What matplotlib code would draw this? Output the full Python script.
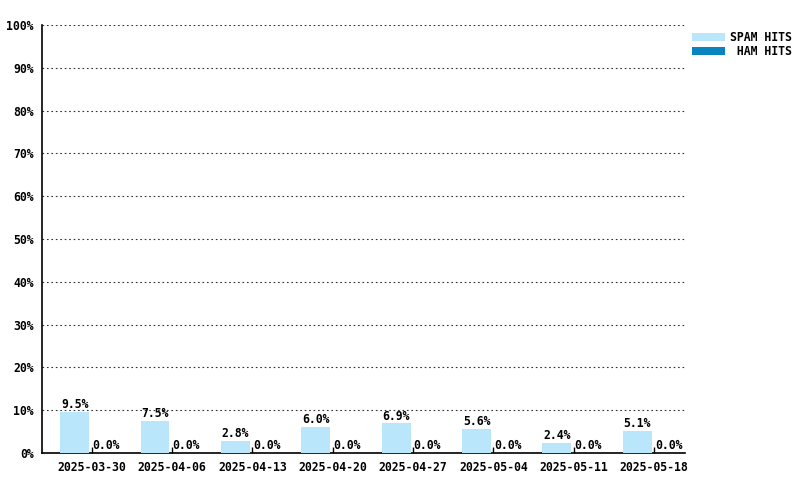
import matplotlib
matplotlib.use("Agg")
import matplotlib.pyplot as plt
import numpy as np

weeks = ["2025-03-30", "2025-04-06", "2025-04-13", "2025-04-20",
         "2025-04-27", "2025-05-04", "2025-05-11", "2025-05-18"]
spam_hits = [9.5, 7.5, 2.8, 6.0, 6.9, 5.6, 2.4, 5.1]
ham_hits = [0.0, 0.0, 0.0, 0.0, 0.0, 0.0, 0.0, 0.0]

spam_color = "#b9e6fb"
ham_color = "#0a84bf"

plt.rcParams["font.family"] = ["DejaVu Sans Mono"]
plt.rcParams["font.weight"] = "bold"
plt.rcParams["font.size"] = 8.3

fig = plt.figure(figsize=(8, 4.8), dpi=100)
ax = fig.add_axes([42 / 800, 27 / 480, 643 / 800, 428 / 480])

x = np.arange(len(weeks))
w = 0.36
spam = ax.bar(x - 0.39, spam_hits, width=w, align="edge", color=spam_color,
              label="SPAM HITS", zorder=3)
ham = ax.bar(x, ham_hits, width=w, align="edge", color=ham_color,
             label=" HAM HITS", zorder=3)

for bars, vals in ((spam, spam_hits), (ham, ham_hits)):
    for b, v in zip(bars, vals):
        ax.text(b.get_x() + b.get_width() / 2, v + 0.2, f"{v:.1f}%",
                ha="center", va="bottom", fontweight="bold", zorder=4)

ax.set_xlim(-0.616, 7.384)
ax.set_ylim(0, 100)
ax.set_xticks(x)
ax.set_xticklabels(weeks)
ax.set_yticks(np.arange(0, 101, 10))
ax.set_yticklabels([f"{v}%" for v in range(0, 101, 10)])
ax.tick_params(axis="x", direction="in", length=4, width=1, pad=6)
ax.tick_params(axis="y", length=0, pad=6)
ax.yaxis.grid(True, linestyle=(0, (1.5, 2.5)), color="#333333", linewidth=0.8)
ax.set_axisbelow(True)
for s in ("top", "right"):
    ax.spines[s].set_visible(False)
for s in ("left", "bottom"):
    ax.spines[s].set_linewidth(1.2)

fig.legend(handles=[spam, ham], loc="upper right",
           bbox_to_anchor=(792 / 800, 1 - 31 / 480), frameon=False,
           handlelength=2.9, handleheight=0.6, handletextpad=0.45,
           labelspacing=0.1, borderaxespad=0, borderpad=0)

fig.savefig("out.png", dpi=100)
